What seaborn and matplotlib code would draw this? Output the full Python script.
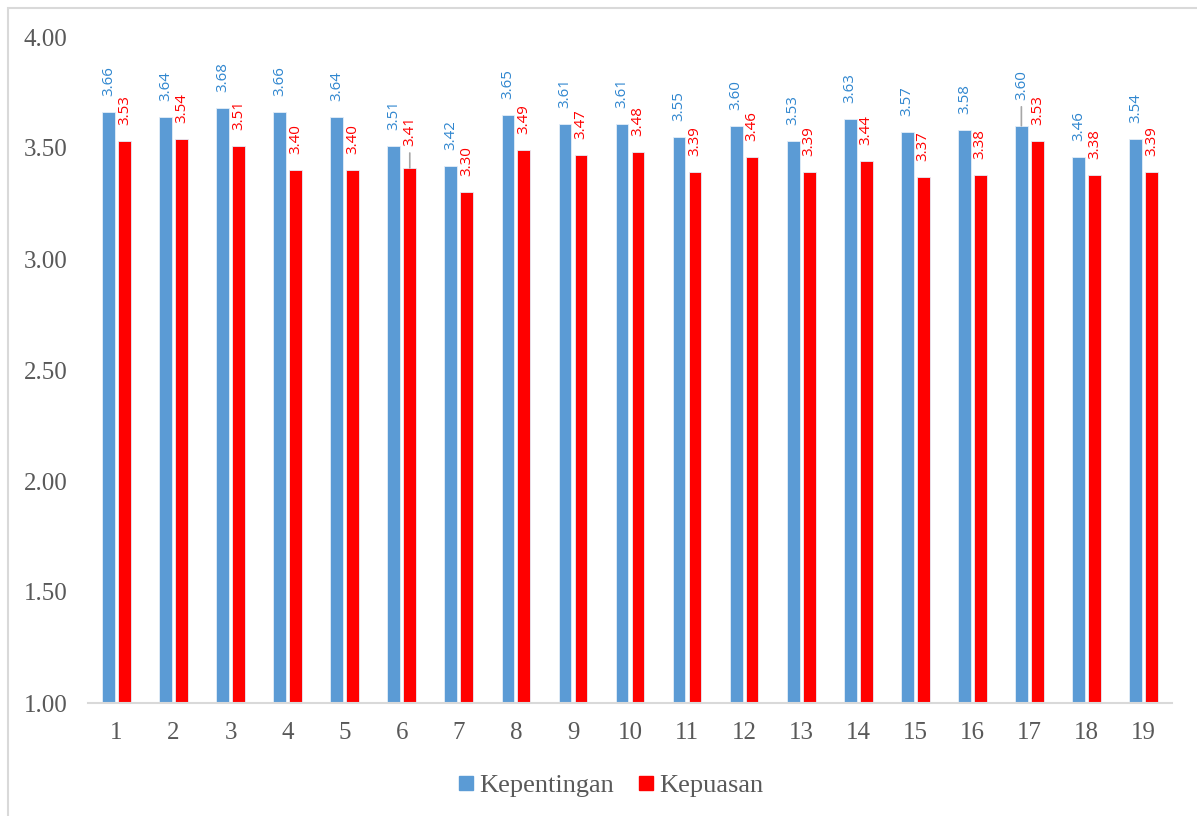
import numpy as np
import pandas as pd
import matplotlib
matplotlib.use("Agg")
import matplotlib.pyplot as plt
import seaborn as sns
from matplotlib.patches import Rectangle
from matplotlib.lines import Line2D

categories = [str(i) for i in range(1, 20)]
kepentingan = [3.66, 3.64, 3.68, 3.66, 3.64, 3.51, 3.42, 3.65, 3.61, 3.61,
               3.55, 3.60, 3.53, 3.63, 3.57, 3.58, 3.60, 3.46, 3.54]
kepuasan = [3.53, 3.54, 3.51, 3.40, 3.40, 3.41, 3.30, 3.49, 3.47, 3.48,
            3.39, 3.46, 3.39, 3.44, 3.37, 3.38, 3.53, 3.38, 3.39]
series_names = ["Kepentingan", "Kepuasan"]
yticks = [1.00, 1.50, 2.00, 2.50, 3.00, 3.50, 4.00]

colors = {"Kepentingan": "#5B9BD5", "Kepuasan": "#FF0000"}
label_colors = {"Kepentingan": "#2F86CF", "Kepuasan": "#FF0000"}

df = pd.DataFrame({
    "cat": categories * 2,
    "value": kepentingan + kepuasan,
    "series": [series_names[0]] * 19 + [series_names[1]] * 19,
})

sns.set_style("white")
plt.rcParams["font.family"] = ["Liberation Serif", "DejaVu Serif"]

fig = plt.figure(figsize=(11.97, 8.16), dpi=100)
ax = fig.add_axes([88 / 1197, 1 - 703 / 816, (1172 - 88) / 1197, (703 - 37) / 816])

sns.barplot(data=df, x="cat", y="value", hue="series", palette=colors,
            saturation=1, width=0.56, gap=0.2, ax=ax, legend=False,
            edgecolor="#E4EEF8", linewidth=0.6)

ax.set_ylim(1.0, 4.0)
ax.set_yticks(yticks)
ax.set_yticklabels([f"{v:.2f}" for v in yticks])
ax.set_xlabel("")
ax.set_ylabel("")
for s in ["top", "right", "left"]:
    ax.spines[s].set_visible(False)
ax.spines["bottom"].set_color("#D9D9D9")
ax.spines["bottom"].set_linewidth(1.5)
ax.tick_params(axis="both", length=0, labelsize=18, colors="#595959")
ax.tick_params(axis="x", pad=14)
ax.tick_params(axis="y", pad=15)

# data labels
special = {("Kepuasan", 5): 22, ("Kepentingan", 16): 26}
for ci, cont in enumerate(ax.containers):
    name = series_names[ci]
    vals = kepentingan if ci == 0 else kepuasan
    for i, bar in enumerate(cont):
        x = bar.get_x() + bar.get_width() / 2
        top = vals[i]
        off = special.get((name, i), 16)
        ax.annotate(f"{top:.2f}", xy=(x, top), xytext=(0, off),
                    textcoords="offset pixels",
                    rotation=90, ha="center", va="bottom",
                    fontsize=10.8, color=label_colors[name],
                    family=["Open Sans", "DejaVu Sans"])
        if (name, i) in special:
            ax.annotate("", xy=(x, top), xytext=(0, off - 7),
                        textcoords="offset pixels",
                        arrowprops=dict(arrowstyle="-", color="#A6A6A6", lw=1.2,
                                        shrinkA=0, shrinkB=0))

# legend
handles = [Line2D([0], [0], marker="s", linestyle="", markersize=10.5,
                  markerfacecolor=colors[n], markeredgecolor=colors[n]) for n in series_names]
fig.legend(handles, series_names, loc="center", bbox_to_anchor=(0.508, 1 - 785 / 816),
           ncol=2, frameon=False, fontsize=19, handletextpad=0.0,
           handlelength=1.0, columnspacing=0.75, labelcolor="#595959")

# chart frame
fig.patches.append(Rectangle((8 / 1197, -0.05), 1.1, 1 - 8 / 816 + 0.05,
                             transform=fig.transFigure, fill=False,
                             edgecolor="#D9D9D9", linewidth=1.5))

fig.savefig("out.png", dpi=100)
